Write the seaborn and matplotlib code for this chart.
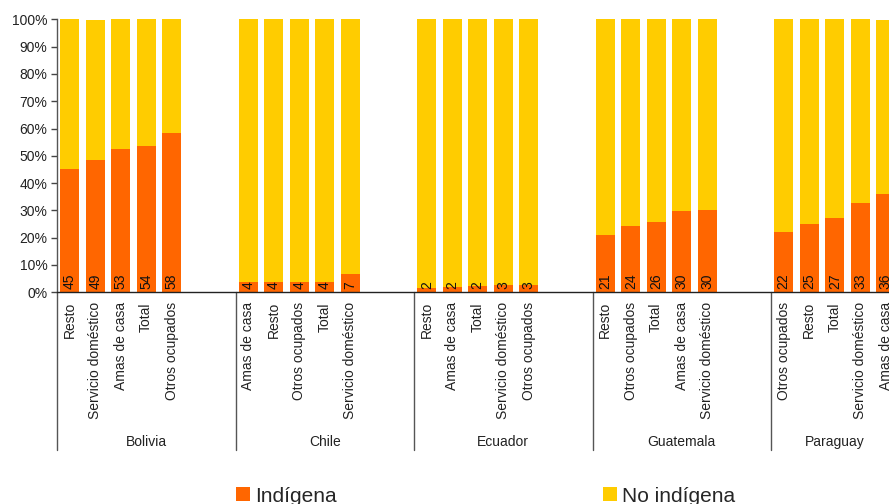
import matplotlib
matplotlib.use("Agg")
import matplotlib.pyplot as plt
from matplotlib.patches import Patch
from matplotlib.lines import Line2D
import seaborn as sns
import pandas as pd

# ---- data ----
countries = ["Bolivia", "Chile", "Ecuador", "Guatemala", "Paraguay"]
categories = [
    ["Resto", "Servicio doméstico", "Amas de casa", "Total", "Otros ocupados"],
    ["Amas de casa", "Resto", "Otros ocupados", "Total", "Servicio doméstico"],
    ["Resto", "Amas de casa", "Total", "Servicio doméstico", "Otros ocupados"],
    ["Resto", "Otros ocupados", "Total", "Amas de casa", "Servicio doméstico"],
    ["Otros ocupados", "Resto", "Total", "Servicio doméstico", "Amas de casa"],
]
indigena = [
    [45.2, 48.6, 52.6, 53.6, 58.3],
    [3.6, 3.8, 3.8, 3.8, 6.7],
    [1.6, 1.9, 2.2, 2.6, 2.7],
    [21.0, 24.3, 25.8, 29.8, 30.1],
    [22.1, 25.0, 27.2, 32.6, 36.0],
]
no_indigena = [
    [54.8, 51.2, 47.4, 46.4, 41.7],
    [96.4, 96.2, 96.2, 96.2, 93.3],
    [98.4, 98.1, 97.8, 97.4, 97.3],
    [79.0, 75.7, 74.2, 70.2, 69.9],
    [77.9, 75.0, 72.8, 67.4, 63.8],
]
series_names = ["Indígena", "No indígena"]
yticks = [0, 10, 20, 30, 40, 50, 60, 70, 80, 90, 100]

ORANGE = "#FF6600"
YELLOW = "#FFCC00"
GAP = 2  # empty category slots between country groups

# slot layout: each group = its bars + GAP blank slots (none after the last group)
group_start = []
group_size = []
cursor = 0
for g in range(len(countries)):
    n = len(categories[g]) + (GAP if g < len(countries) - 1 else 0)
    group_start.append(cursor)
    group_size.append(n)
    cursor += n
total_slots = cursor

rows = []
for g, c in enumerate(countries):
    for i, cat in enumerate(categories[g]):
        rows.append({
            "pos": group_start[g] + i,
            "country": c,
            "cat": cat,
            "ind": indigena[g][i],
            "stack": indigena[g][i] + no_indigena[g][i],
        })
df = pd.DataFrame(rows)

sns.set_theme(style="white")
plt.rcParams["font.family"] = ["Liberation Sans", "DejaVu Sans"]

W, H = 889, 504
fig = plt.figure(figsize=(W / 100, H / 100), dpi=100)
x0, y0 = 57, 292.3
ytop = 19.3
slot_px = 25.5
ax = fig.add_axes([x0 / W, (H - y0) / H, total_slots * slot_px / W, (y0 - ytop) / H])

sns.barplot(data=df, x="pos", y="stack", native_scale=True, color=YELLOW,
            saturation=1, width=0.75, errorbar=None, ax=ax, linewidth=0)
sns.barplot(data=df, x="pos", y="ind", native_scale=True, color=ORANGE,
            saturation=1, width=0.75, errorbar=None, ax=ax, linewidth=0)

ax.set_xlim(-0.5, total_slots - 0.5)
ax.set_ylim(0, 100)
ax.set_yticks(yticks)
ax.set_yticklabels([f"{v}%" for v in yticks], fontsize=10, color="#222222")
ax.set_xticks(df["pos"])
ax.set_xticklabels(df["cat"], rotation=90, fontsize=10, color="#222222", va="top")
ax.tick_params(axis="x", length=0, pad=7)
ax.tick_params(axis="y", length=4, width=1, color="#444444", pad=3, left=True)
ax.set_xlabel("")
ax.set_ylabel("")
for s in ["top", "right"]:
    ax.spines[s].set_visible(False)
ax.spines["left"].set_color("#555555")
ax.spines["left"].set_linewidth(1)
ax.spines["bottom"].set_color("#222222")
ax.spines["bottom"].set_linewidth(1)

# value labels
for _, r in df.iterrows():
    ax.text(r["pos"], 1.2, f"{round(r['ind'])}", rotation=90, ha="center",
            va="bottom", fontsize=10, color="#111111")

# group separators and country names
trans = ax.get_xaxis_transform()
sep_bottom = -(450 - y0) / (y0 - ytop)
name_y = -(442 - y0) / (y0 - ytop)
for g, c in enumerate(countries):
    xs = group_start[g] - 0.5
    ax.add_line(Line2D([xs, xs], [0, sep_bottom], transform=trans,
                       color="#555555", lw=1, clip_on=False))
    ax.text(group_start[g] + (group_size[g] - 1) / 2, name_y, c, transform=trans,
            ha="center", va="center", fontsize=10, color="#222222")

# legend
h1 = Patch(facecolor=ORANGE, edgecolor="none", label=series_names[0])
h2 = Patch(facecolor=YELLOW, edgecolor="none", label=series_names[1])
for h, xpos in [(h1, 236 / W), (h2, 603 / W)]:
    fig.legend(handles=[h], loc="center left", bbox_to_anchor=(xpos, (H - 496) / H),
               frameon=False, fontsize=15, handlelength=0.68, handleheight=0.68,
               handletextpad=0.25, borderpad=0, borderaxespad=0)

fig.savefig("out.png", dpi=100)
